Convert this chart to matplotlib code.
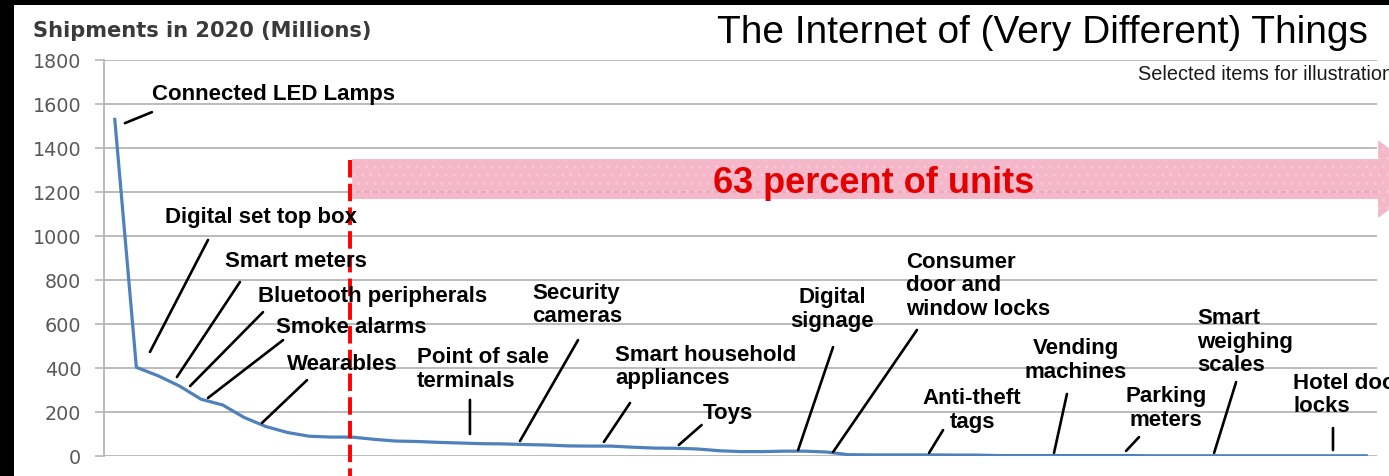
import matplotlib
matplotlib.use("Agg")
import matplotlib.pyplot as plt
from matplotlib.patches import Polygon, Rectangle

# ---------------- data ----------------
shipments = [1530, 403, 365, 318, 258, 232, 175, 134, 107, 90,
             86, 86, 76, 68, 66, 62, 59, 56, 55, 52,
             50, 46, 45, 45, 40, 36, 35, 32, 24, 20,
             20, 22, 22, 18, 6, 5, 5, 5, 5, 4,
             4, 2, 2, 2, 2, 2, 2, 2, 1, 1,
             1, 1, 1, 1, 1, 1, 1, 1, 1]
item_index = list(range(len(shipments)))
y_ticks = [0, 200, 400, 600, 800, 1000, 1200, 1400, 1600, 1800]
y_tick_labels = ["0", "200", "400", "600", "800", "1000", "1200", "1400", "1600", "1800"]

labels = ["Connected LED Lamps", "Digital set top box", "Smart meters",
          "Bluetooth peripherals", "Smoke alarms", "Wearables",
          "Point of sale\nterminals", "Security\ncameras",
          "Smart household\nappliances", "Toys", "Digital\nsignage",
          "Consumer\ndoor and\nwindow locks", "Anti-theft\ntags",
          "Vending\nmachines", "Parking\nmeters", "Smart\nweighing\nscales",
          "Hotel door\nlocks"]

threshold_pos = 10.9          # start of the "63 percent of units" range
share_text = "63 percent of units"

# --------------- layout of annotations (text pos, align, leader line) ---------------
ann_layout = [
    ((1.72, 1641), "left",   (0.47, 1513), (1.72, 1563)),
    ((2.33, 1082), "left",   (1.63, 473),  (4.32, 982)),
    ((5.11, 882),  "left",   (2.88, 359),  (5.80, 791)),
    ((6.64, 727),  "left",   (3.49, 318),  (6.87, 654)),
    ((7.47, 586),  "left",   (4.32, 264),  (7.80, 527)),
    ((7.98, 418),  "left",   (6.82, 150),  (8.91, 345)),
    ((14.0, 393),  "left",   (16.46, 100), (16.46, 255)),
    ((19.34, 686), "left",   (18.78, 68),  (21.47, 527)),
    ((23.18, 405), "left",   (22.67, 64),  (23.88, 241)),
    ((27.25, 195), "left",   (26.14, 50),  (27.20, 141)),
    ((33.24, 666), "center", (31.67, 27),  (33.29, 495)),
    ((36.67, 773), "left",   (33.29, 18),  (37.18, 573)),
    ((39.73, 207), "center", (37.74, 14),  (38.39, 118)),
    ((44.55, 434), "center", (43.53, 14),  (44.13, 282)),
    ((48.72, 216), "center", (46.87, 23),  (47.47, 86)),
    ((50.16, 518), "left",   (50.95, 14),  (51.97, 336)),
    ((54.61, 277), "left",   (56.46, 27),  (56.46, 127)),
]

W, H = 1389, 476
fig = plt.figure(figsize=(W / 100, H / 100), dpi=100)
fig.patch.set_facecolor("white")
ax = fig.add_axes([104 / W, 1 - 456 / H, (1377 - 104) / W, (456 - 60) / H])
ax.set_facecolor("none")

grid_c = "#b5b5b5"
ax.set_xlim(-0.5, len(shipments) - 0.5)
ax.set_ylim(0, 1800)
ax.set_yticks(y_ticks)
ax.set_yticklabels(y_tick_labels, fontsize=13.8, color="#595959", family="DejaVu Sans")
ax.set_xticks([])
ax.tick_params(axis="y", length=6.5, width=1.2, color=grid_c, pad=10)
ax.yaxis.grid(True, color=grid_c, lw=1.3, zorder=0)
ax.set_axisbelow(True)
for s in ["top", "right", "bottom"]:
    ax.spines[s].set_visible(False)
ax.spines["left"].set_color(grid_c)
ax.spines["left"].set_linewidth(1.3)

# pink arrow ("63 percent of units")
x0, x1, xt = threshold_pos + 0.1, 58.55, 60.96
yb0, yb1, yh0, yh1 = 1168, 1350, 1082, 1436
ym = (yb0 + yb1) / 2
arrow = Polygon([(x0, yb0), (x1, yb0), (x1, yh0), (xt, ym), (x1, yh1), (x1, yb1), (x0, yb1)],
                closed=True, facecolor="#f2a6bd", edgecolor="#f8cad8", lw=0,
                hatch="..", alpha=0.8, zorder=2, clip_on=False)
ax.add_patch(arrow)
ax.text(35.16, ym - 22, share_text, color="#e30000", fontsize=26,
        fontweight="bold", family="Liberation Sans", ha="center", va="center", zorder=4)

# data line
ax.plot(item_index, shipments, color="#4f81bd", lw=2.3, zorder=3, solid_joinstyle="round")

# red dashed threshold
ax.plot([threshold_pos, threshold_pos], [1345, -200], color="#ff0000", lw=2.8,
        dashes=(4.5, 1.6), zorder=5, clip_on=False)

# annotations
for lab, (tpos, ha, p0, p1) in zip(labels, ann_layout):
    ax.text(tpos[0], tpos[1], lab, fontsize=16, fontweight="bold", family="Liberation Sans",
            ha=ha, va="center", linespacing=1.15, color="black", zorder=6, clip_on=False)
    ax.annotate("", xy=p0, xytext=p1,
                arrowprops=dict(arrowstyle="-", lw=1.9, color="black", shrinkA=0, shrinkB=0),
                zorder=6)

# titles
fig.text(1042 / W, 1 - 33 / H, "The Internet of (Very Different) Things", fontsize=28,
         family="Liberation Sans", ha="center", va="center", color="black")
fig.text(1138 / W, 1 - 74 / H, "Selected items for illustration", fontsize=14.3,
         family="Liberation Sans", ha="left", va="center", color="#1a1a1a")
fig.text(33 / W, 1 - 31 / H, "Shipments in 2020 (Millions)", fontsize=15.1,
         family="DejaVu Sans", fontweight="bold", ha="left", va="center", color="#3a3a3a")

# black frame edges of the screenshot
fig.patches.append(Rectangle((0, 0), 14 / W, 1, transform=fig.transFigure,
                             facecolor="black", edgecolor="none", zorder=10))
fig.patches.append(Rectangle((0, 1 - 5 / H), 1, 5 / H, transform=fig.transFigure,
                             facecolor="black", edgecolor="none", zorder=10))

fig.savefig("out.png", dpi=100)
